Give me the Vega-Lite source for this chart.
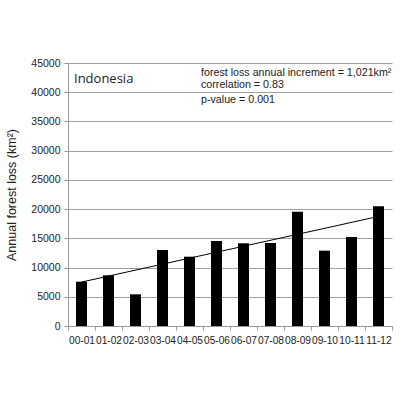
{
  "$schema": "https://vega.github.io/schema/vega-lite/v6.json",
  "autosize": {"type": "none"},
  "width": 324,
  "height": 263,
  "padding": {"left": 68, "top": 63, "right": 8, "bottom": 74},
  "background": "white",
  "config": {"view": {"stroke": null}, "font": "Liberation Sans"},
  "datasets": {
    "bars": [
      {"period": "00-01", "loss": 7580},
      {"period": "01-02", "loss": 8670},
      {"period": "02-03", "loss": 5420},
      {"period": "03-04", "loss": 13000},
      {"period": "04-05", "loss": 11860},
      {"period": "05-06", "loss": 14540},
      {"period": "06-07", "loss": 14150},
      {"period": "07-08", "loss": 14200},
      {"period": "08-09", "loss": 19560},
      {"period": "09-10", "loss": 12890},
      {"period": "10-11", "loss": 15230},
      {"period": "11-12", "loss": 20480}
    ],
    "trend": [
      {"period": "00-01", "loss": 7520},
      {"period": "11-12", "loss": 18750}
    ],
    "notes": [
      {"period": "05-06", "loss": 43300, "label": "forest loss annual increment = 1,021km²"},
      {"period": "05-06", "loss": 41250, "label": "correlation = 0.83"},
      {"period": "05-06", "loss": 38700, "label": "p-value = 0.001"}
    ],
    "country": [
      {"period": "00-01", "loss": 42300, "label": "Indonesia"}
    ]
  },
  "encoding": {
    "x": {
      "field": "period", "type": "nominal", "sort": null,
      "scale": {"paddingInner": 0, "paddingOuter": 0},
      "axis": {
        "title": null, "labelAngle": 0, "tickBand": "extent",
        "domainColor": "#999999", "tickColor": "#999999", "tickSize": 4,
        "labelFontSize": 10.2, "labelColor": "#222222", "labelPadding": 5,
        "labelOverlap": false, "grid": false
      }
    },
    "y": {
      "field": "loss", "type": "quantitative",
      "scale": {"domain": [0, 45000], "nice": false},
      "axis": {
        "title": "Annual forest loss (km²)", "titleFontSize": 12.5, "titleFontWeight": "normal",
        "titleColor": "#222222", "titlePadding": 12,
        "values": [0, 5000, 10000, 15000, 20000, 25000, 30000, 35000, 40000, 45000],
        "labelOverlap": false,
        "format": "d", "labelFontSize": 10.5, "labelColor": "#222222",
        "tickSize": 4, "labelPadding": 4, "tickColor": "#999999",
        "domainColor": "#999999", "gridColor": "#a0a0a0", "gridWidth": 1.2
      }
    }
  },
  "layer": [
    {
      "data": {"name": "bars"},
      "mark": {"type": "bar", "color": "black", "width": 11}
    },
    {
      "data": {"name": "trend"},
      "mark": {"type": "line", "color": "black", "strokeWidth": 1}
    },
    {
      "data": {"name": "notes"},
      "mark": {"type": "text", "align": "left", "baseline": "middle", "fontSize": 10.7, "color": "#222222", "dx": -15.5},
      "encoding": {"text": {"field": "label"}}
    },
    {
      "data": {"name": "country"},
      "mark": {"type": "text", "align": "left", "baseline": "middle", "fontSize": 13, "color": "#222222", "dx": -7.5, "font": "Open Sans"},
      "encoding": {"text": {"field": "label"}}
    }
  ]
}
